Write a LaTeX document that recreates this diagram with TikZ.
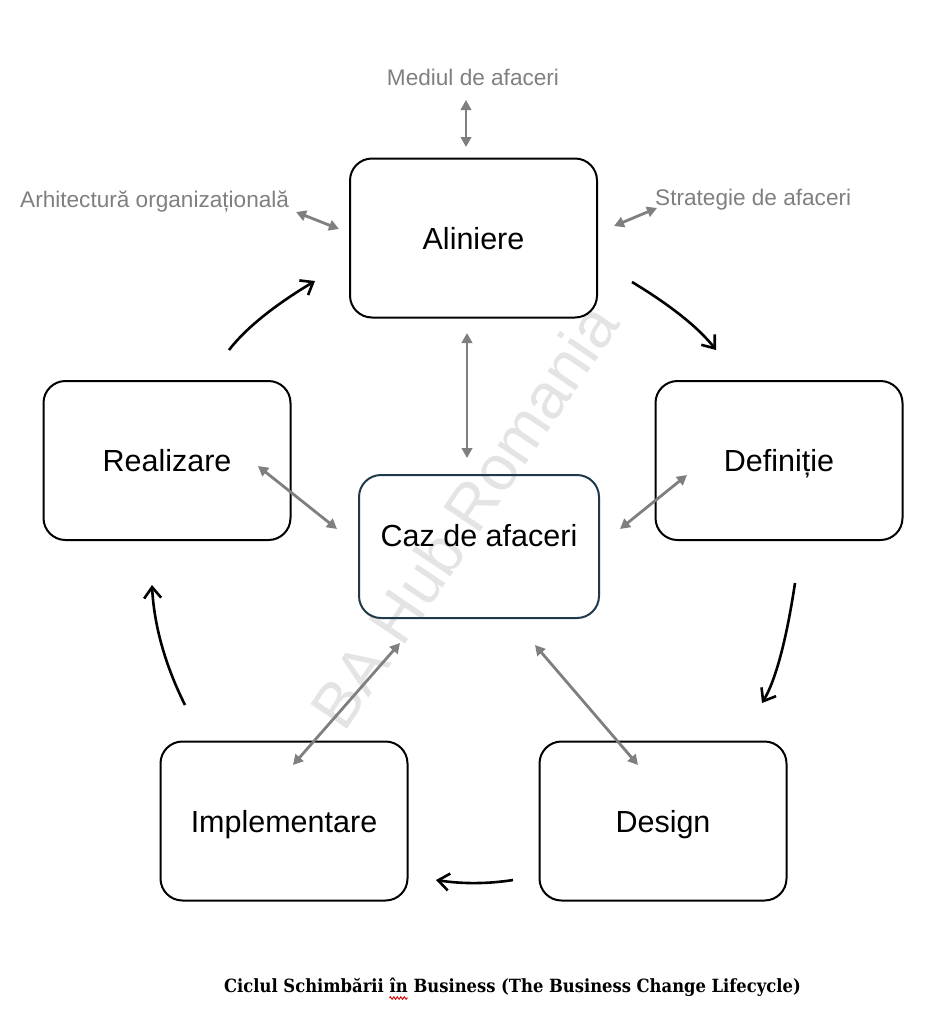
\documentclass[tikz,border=0pt]{standalone}
\usepackage{fontspec}
\setmainfont{Liberation Sans}
\newfontfamily\titlefont{DejaVu Serif Condensed}
\usetikzlibrary{arrows.meta,decorations.pathmorphing}
\definecolor{lgray}{HTML}{7F7F7F}
\definecolor{wm}{HTML}{E4E4E4}
\definecolor{cazblue}{HTML}{1F3A4B}
\tikzset{
  box/.style={draw=black, line width=2pt, rounded corners=22pt,
    minimum width=247pt, minimum height=159pt, inner sep=0pt,
    font=\fontsize{30.5}{36}\selectfont, text height=22pt, text depth=0pt},
  sidelabel/.style={text=lgray, font=\fontsize{22.6}{26}\selectfont, inner sep=0pt},
  garrow/.style={draw=lgray, line width=2.8pt, >={Triangle[length=10pt,width=10.5pt]}, <->},
  barrow/.style={draw=black, line width=2.6pt, -{Straight Barb[length=11pt,width=17pt]}},
  titletext/.style={font=\titlefont\bfseries\fontsize{18.2}{22}\selectfont, inner sep=0pt, anchor=base west}
}
\begin{document}
\begin{tikzpicture}[x=1pt,y=-1pt]
\useasboundingbox (0,0) rectangle (934,1023);
% watermark
\node[rotate=56, text=wm, font=\fontsize{64}{76}\selectfont, inner sep=0pt] (wmark) at (464,516) {BA Hub Romania};
% boxes
\node[box] (alin) at (473.5,238) {Aliniere};
\node[box] (real) at (167,460.5) {Realizare};
\node[box] (defi) at (779,460.5) {Definiție};
\node[box, draw=cazblue, minimum width=240pt, minimum height=143pt, text depth=22pt] (caz) at (479,546.5) {Caz de afaceri};
\node[box] (impl) at (284,821) {Implementare};
\node[box] (desi) at (663,821) {Design};
% side labels
\node[sidelabel, anchor=base] (mediu) at (473,85) {Mediul de afaceri};
\node[sidelabel, anchor=base west] (arhi) at (20,207) {Arhitectură organizațională};
\node[sidelabel, anchor=base west] (strat) at (655,205) {Strategie de afaceri};
% gray arrow end points
\coordinate (m1) at (466,100);  \coordinate (m2) at (466,147);
\coordinate (a1) at (296,212);  \coordinate (a2) at (339,229);
\coordinate (s1) at (614,226);  \coordinate (s2) at (657,208);
\coordinate (ac1) at (467,333); \coordinate (ac2) at (467,458);
\coordinate (rc1) at (258,466); \coordinate (rc2) at (337,529);
\coordinate (dc1) at (687,475); \coordinate (dc2) at (620,529);
\coordinate (ic1) at (293,765); \coordinate (ic2) at (400,643);
\coordinate (gc1) at (638,765); \coordinate (gc2) at (535,645);
\draw[garrow] (m1) -- (m2);
\draw[garrow] (a1) -- (a2);
\draw[garrow] (s1) -- (s2);
\draw[garrow] (ac1) -- (ac2);
\draw[garrow] (rc1) -- (rc2);
\draw[garrow] (dc1) -- (dc2);
\draw[garrow] (ic1) -- (ic2);
\draw[garrow] (gc1) -- (gc2);
% black cycle arrows
\coordinate (ra1) at (229,350); \coordinate (ra2) at (315,281);
\coordinate (ad1) at (632,282); \coordinate (ad2) at (716,350);
\coordinate (dd1) at (795,583); \coordinate (dd2) at (762,703);
\coordinate (di1) at (513,880); \coordinate (di2) at (436,880);
\coordinate (ir1) at (185,705); \coordinate (ir2) at (152,585);
\draw[barrow] (ra1) .. controls (245.7,328.3) and (274.3,305.3) .. (ra2);
\draw[barrow] (ad1) .. controls (671.3,305.7) and (699.3,328.4) .. (ad2);
\draw[barrow] (dd1) .. controls (786.3,641) and (775.3,681) .. (dd2);
\draw[barrow] (di1) .. controls (487.7,884) and (462,884) .. (di2);
\draw[barrow] (ir1) .. controls (165,665) and (154,625) .. (ir2);
% title
\node[titletext] (t1) at (224,992) {Ciclul Schimbării};
\node[titletext] (t2) at ([xshift=5.4pt]t1.base east) {în};
\node[titletext] (t3) at ([xshift=5.4pt]t2.base east) {Business (The Business Change Lifecycle)};
\draw[red!85!black, line width=0.9pt, decorate, decoration={zigzag, segment length=3.5pt, amplitude=1.3pt}]
  ([yshift=-6pt]t2.base west) -- ([yshift=-6pt]t2.base east);
\end{tikzpicture}
\end{document}
